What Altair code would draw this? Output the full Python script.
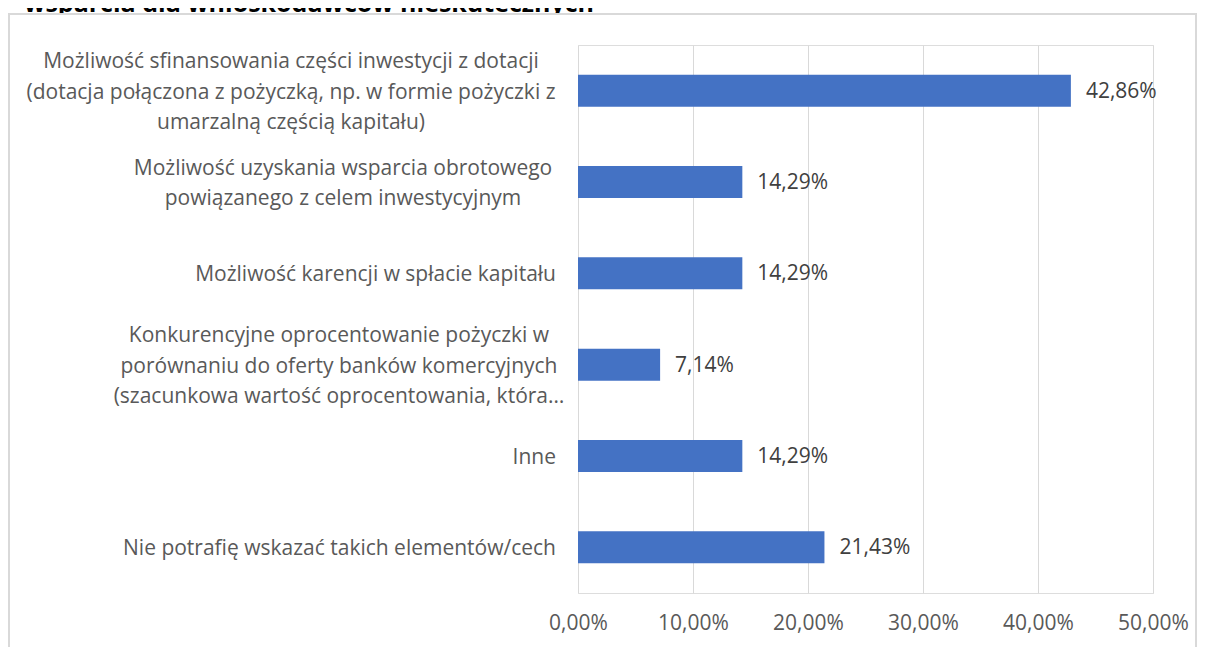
import altair as alt
import pandas as pd

# ---- data ----
categories = [
    "Możliwość sfinansowania części inwestycji z dotacji (dotacja połączona z pożyczką, np. w formie pożyczki z umarzalną częścią kapitału)",
    "Możliwość uzyskania wsparcia obrotowego powiązanego z celem inwestycyjnym",
    "Możliwość karencji w spłacie kapitału",
    "Konkurencyjne oprocentowanie pożyczki w porównaniu do oferty banków komercyjnych (szacunkowa wartość oprocentowania, która…",
    "Inne",
    "Nie potrafię wskazać takich elementów/cech",
]
category_lines = [
    ["Możliwość sfinansowania części inwestycji z dotacji",
     "(dotacja połączona z pożyczką, np. w formie pożyczki z",
     "umarzalną częścią kapitału)"],
    ["Możliwość uzyskania wsparcia obrotowego",
     "powiązanego z celem inwestycyjnym"],
    ["Możliwość karencji w spłacie kapitału"],
    ["Konkurencyjne oprocentowanie pożyczki w",
     "porównaniu do oferty banków komercyjnych",
     "(szacunkowa wartość oprocentowania, która…"],
    ["Inne"],
    ["Nie potrafię wskazać takich elementów/cech"],
]
values = [0.4286, 0.1429, 0.1429, 0.0714, 0.1429, 0.2143]
x_ticks = [0, 0.1, 0.2, 0.3, 0.4, 0.5]
title_text = "wsparcia dla wnioskodawców nieskutecznych"

# ---- layout (pixel anchors of the centred multi-line labels, relative to plot left) ----
label_anchor = [-287, -235, -22, -239, -22, -22]

FONT = "Open Sans"
FS = 21
LH = 30.5

df = pd.DataFrame({
    "cat": categories,
    "val": values,
    "lines": category_lines,
    "n": [len(l) for l in category_lines],
    "anchor": label_anchor,
})

x_enc = alt.X(
    "val:Q",
    scale=alt.Scale(domain=[0, 0.5], nice=False),
    axis=alt.Axis(
        values=x_ticks,
        labelExpr="replace(format(datum.value, '.2%'), '.', ',')",
        grid=True, gridColor="#D9D9D9", domain=False, ticks=False,
        labelFont=FONT, labelFontSize=FS, labelColor="#595959",
        labelPadding=19, labelFlush=False, title=None,
    ),
)
y_scale = alt.Scale(paddingInner=0.65, paddingOuter=0.325)
y_enc = alt.Y("cat:N", sort=categories, scale=y_scale, axis=None)

bars = alt.Chart(df).mark_bar(color="#4472C4").encode(x=x_enc, y=y_enc)

vals = alt.Chart(df).transform_calculate(
    lbl="replace(format(datum.val, '.2%'), '.', ',')"
).mark_text(align="left", dx=15, dy=1, font=FONT, fontSize=FS, color="#404040").encode(
    x="val:Q", y=alt.Y("cat:N", sort=categories), text="lbl:N"
)

def cat_layer(n, align):
    return alt.Chart(df).transform_filter(f"datum.n == {n}").mark_text(
        align=align, baseline="middle", font=FONT, fontSize=FS,
        color="#595959", lineHeight=LH, dy=-(n - 1) * LH / 2 + 2,
    ).encode(
        x=alt.X("anchor:Q", scale=None),
        y=alt.Y("cat:N", sort=categories),
        text="lines:N",
    )

cat1 = cat_layer(1, "right")
cat2 = cat_layer(2, "center")
cat3 = cat_layer(3, "center")

title = alt.Chart(pd.DataFrame({"t": [title_text]})).mark_text(
    align="left", baseline="alphabetic", font=FONT, fontSize=25, fontWeight="bold", color="#000000"
).encode(x=alt.value(-554), y=alt.value(-33), text="t:N")
cover = alt.Chart(df).mark_rect(fill="white", stroke=None).encode(
    x=alt.value(-569), x2=alt.value(618), y=alt.value(-31), y2=alt.value(-22)
)
border = alt.Chart(df).mark_rect(fill=None, stroke="#D9D9D9", strokeWidth=1.5).encode(
    x=alt.value(-569), x2=alt.value(618), y=alt.value(-31), y2=alt.value(700)
)

chart = alt.layer(title, cover, border, bars, vals, cat1, cat2, cat3).properties(
    width=575, height=548,
    autosize=alt.AutoSizeParams(type="none"),
    padding={"left": 570, "top": 37, "right": 44, "bottom": 54},
).configure_view(stroke=None).configure(background="white")

chart.save("out.html", embed_options={"renderer": "svg", "actions": False})
